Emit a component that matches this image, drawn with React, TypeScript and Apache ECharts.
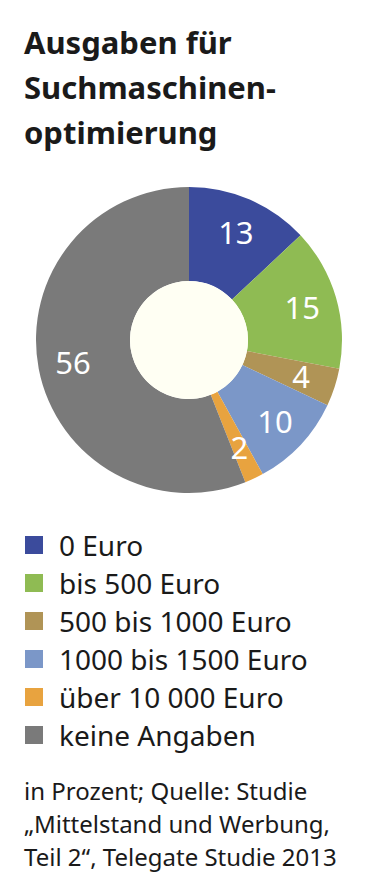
import React, { useEffect, useRef } from "react";
import * as echarts from "echarts";

const categories = [
  "0 Euro",
  "bis 500 Euro",
  "500 bis 1000 Euro",
  "1000 bis 1500 Euro",
  "über 10 000 Euro",
  "keine Angaben",
];
const values = [13, 15, 4, 10, 2, 56];
const colors = ["#3b4b9c", "#8fbb53", "#b09456", "#7b97c8", "#e8a33f", "#7a7a7a"];
const titleText = "Ausgaben für\nSuchmaschinen-\noptimierung";
const footText = "in Prozent; Quelle: Studie\n„Mittelstand und Werbung,\nTeil 2“, Telegate Studie 2013";

const FONT = "'Noto Sans', sans-serif";

export default function App() {
  const ref = useRef<HTMLDivElement>(null);
  useEffect(() => {
    document.body.style.margin = "0";
    const chart = echarts.init(ref.current!, null, { renderer: "svg" });
    const data = categories.map((name, i) => ({
      name,
      value: values[i],
      itemStyle: { color: colors[i] },
    }));
    chart.setOption({
      animation: false,
      backgroundColor: "#ffffff",
      title: [
        {
          text: titleText,
          left: 24,
          top: 19,
          padding: 0,
          textStyle: {
            fontFamily: FONT,
            fontSize: 31,
            fontWeight: "bold",
            color: "#1a1a1a",
            lineHeight: 45,
          },
        },
        {
          text: footText,
          left: 24,
          top: 774,
          padding: 0,
          textStyle: {
            fontFamily: FONT,
            fontSize: 24,
            fontWeight: "normal",
            color: "#1a1a1a",
            lineHeight: 33,
          },
        },
      ],
      legend: {
        orient: "vertical",
        left: 25,
        top: 531,
        padding: 0,
        itemWidth: 18,
        itemHeight: 18,
        itemGap: 10,
        icon: "rect",
        selectedMode: false,
        textStyle: {
          fontFamily: FONT,
          fontSize: 28,
          color: "#1a1a1a",
          padding: [0, 0, 0, 11],
        },
        data: categories,
      },
      series: [
        {
          type: "pie",
          center: [189, 340],
          radius: [59, 153],
          startAngle: 90,
          clockwise: true,
          silent: true,
          label: { show: false },
          labelLine: { show: false },
          itemStyle: { borderWidth: 0 },
          data,
        },
        {
          type: "pie",
          center: [189, 340],
          radius: [60, 170],
          startAngle: 90,
          clockwise: true,
          silent: true,
          itemStyle: { color: "transparent", borderWidth: 0 },
          label: {
            show: true,
            position: "inside",
            formatter: "{c}",
            color: "#ffffff",
            fontFamily: FONT,
            fontSize: 31,
          },
          labelLine: { show: false },
          data: categories.map((name, i) => ({ name, value: values[i] })),
        },
        {
          type: "pie",
          center: [189, 340],
          radius: [0, 59],
          silent: true,
          label: { show: false },
          labelLine: { show: false },
          itemStyle: { color: "#fffff3", borderWidth: 0 },
          data: [{ name: "", value: 1 }],
        },
      ],
    });
    return () => chart.dispose();
  }, []);
  return <div ref={ref} style={{ width: 378, height: 886 }} />;
}
